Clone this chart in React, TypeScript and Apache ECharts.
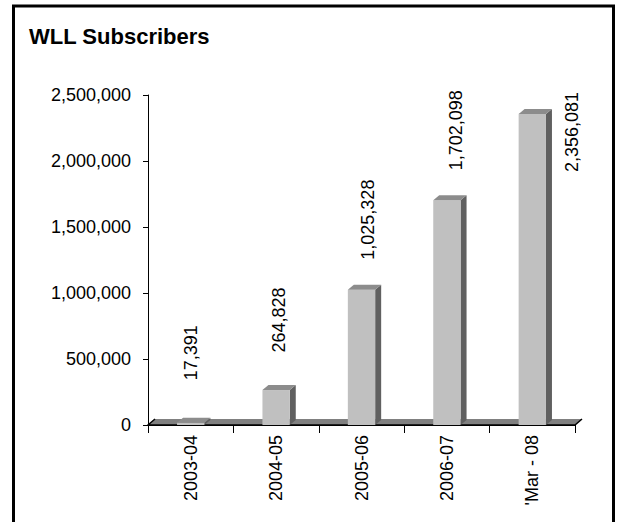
import React, { useEffect, useRef } from "react";
import * as echarts from "echarts";

const categories = ["2003-04", "2004-05", "2005-06", "2006-07", "'Mar - 08"];
const subscribers = [17391, 264828, 1025328, 1702098, 2356081];
const yTicks = { min: 0, max: 2500000, interval: 500000 };
const title = "WLL Subscribers";

const FONT = "'Liberation Sans', Arial, sans-serif";
const DX = 6;
const DY = -5;

export default function App() {
  const ref = useRef<HTMLDivElement>(null);
  useEffect(() => {
    if (!ref.current) return;
    const chart = echarts.init(ref.current, null, { renderer: "svg" });
    const fmt = (v: number) => v.toLocaleString("en-US");
    const option: any = {
      animation: false,
      backgroundColor: "#ffffff",
      textStyle: { fontFamily: FONT },
      graphic: [
        {
          type: "rect",
          shape: { x: 13.5, y: 6, width: 600, height: 600 },
          style: { fill: "none", stroke: "#000", lineWidth: 3 },
          silent: true,
        },
        {
          type: "text",
          left: 29,
          top: 25,
          style: {
            text: title,
            fontFamily: FONT,
            fontWeight: "bold",
            fontSize: 22,
            fill: "#000",
          },
        },
      ],
      grid: { left: 148, right: 48, top: 95, bottom: 97, containLabel: false },
      xAxis: {
        type: "category",
        data: categories,
        boundaryGap: true,
        axisLine: { show: true, lineStyle: { color: "#000", width: 1 } },
        axisTick: { show: true, length: 8, interval: 0, lineStyle: { color: "#000" } },
        axisLabel: {
          rotate: 90,
          margin: 10,
          interval: 0,
          color: "#000",
          fontSize: 18,
          fontFamily: FONT,
        },
        splitLine: { show: false },
      },
      yAxis: {
        type: "value",
        min: yTicks.min,
        max: yTicks.max,
        interval: yTicks.interval,
        axisLine: { show: true, lineStyle: { color: "#000", width: 1 } },
        axisTick: { show: true, length: 5, lineStyle: { color: "#000" } },
        axisLabel: {
          margin: 17,
          color: "#000",
          fontSize: 18,
          fontFamily: FONT,
          formatter: (v: number) => fmt(v),
        },
        splitLine: { show: false },
      },
      series: [
        {
          type: "custom",
          z: 1,
          silent: true,
          data: [[0, 0]],
          renderItem: (params: any, api: any) => {
            const cs = params.coordSys;
            const x0 = cs.x;
            const x1 = cs.x + cs.width;
            const yb = cs.y + cs.height;
            return {
              type: "group",
              children: [
                {
                  type: "polygon",
                  shape: {
                    points: [
                      [x0, yb],
                      [x0 + DX + 1, yb + DY - 1],
                      [x1 + DX + 1, yb + DY - 1],
                      [x1, yb],
                    ],
                  },
                  style: { fill: "#808080", stroke: "none" },
                },
                {
                  type: "polyline",
                  shape: {
                    points: [
                      [x0 + DX + 1, yb + DY - 1],
                      [x0, yb],
                      [x1, yb],
                      [x1 + DX + 1, yb + DY - 1],
                    ],
                  },
                  style: { fill: "none", stroke: "#000", lineWidth: 1.5 },
                },
              ],
            };
          },
        },
        {
          type: "custom",
          z: 3,
          silent: true,
          data: subscribers.map((v, i) => [i, v]),
          renderItem: (params: any, api: any) => {
            const idx = api.value(0);
            const v = api.value(1);
            const base = api.coord([idx, 0]);
            const top = api.coord([idx, v]);
            const band = api.size([1, 0])[0];
            const w = band * 0.32;
            const cx = base[0];
            const x0 = cx - w / 2;
            const x1 = cx + w / 2;
            const yb = base[1];
            const yt = top[1];
            const text = fmt(v);
            const halfLen = text.length * 4.6;
            let lx = cx + idx * 3;
            let ly = yt - 70;
            if (ly - halfLen < 60) {
              lx = x1 + DX + 20;
              ly = yt + 18;
            }
            return {
              type: "group",
              children: [
                {
                  type: "polygon",
                  shape: {
                    points: [
                      [x1, yb],
                      [x1 + DX, yb + DY],
                      [x1 + DX, yt + DY],
                      [x1, yt],
                    ],
                  },
                  style: { fill: "#606060", stroke: "none" },
                },
                {
                  type: "rect",
                  shape: { x: x0, y: yt, width: w, height: yb - yt },
                  style: { fill: "#c0c0c0", stroke: "none" },
                },
                {
                  type: "polygon",
                  shape: {
                    points: [
                      [x0, yt],
                      [x0 + DX, yt + DY],
                      [x1 + DX, yt + DY],
                      [x1, yt],
                    ],
                  },
                  style: { fill: "#8c8c8c", stroke: "none" },
                },
                {
                  type: "text",
                  x: lx,
                  y: ly,
                  rotation: Math.PI / 2,
                  style: {
                    text,
                    fontFamily: FONT,
                    fontSize: 18,
                    fill: "#000",
                    textAlign: "center",
                    textVerticalAlign: "middle",
                  },
                },
              ],
            };
          },
        },
      ],
    };
    chart.setOption(option);
    return () => chart.dispose();
  }, []);
  return (
    <div
      ref={ref}
      style={{ position: "absolute", left: 0, top: 0, width: 623, height: 522 }}
    />
  );
}
